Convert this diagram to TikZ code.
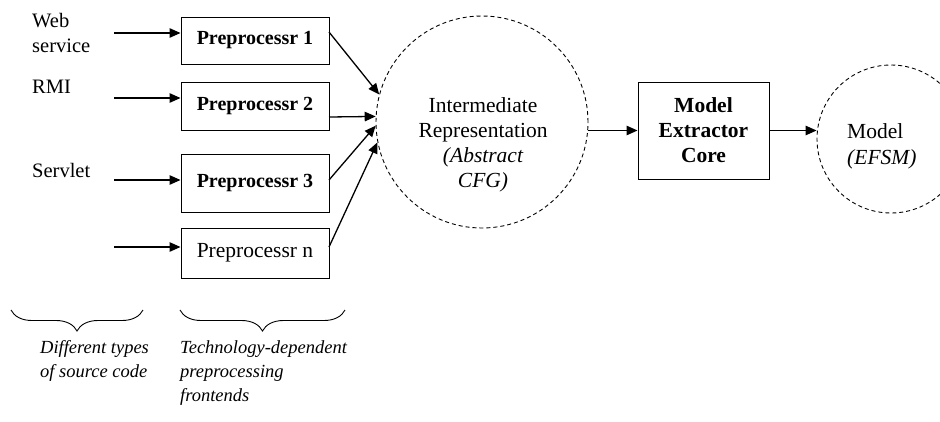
\documentclass[tikz,border=0pt]{standalone}
\usepackage{fontspec}
\setmainfont{Liberation Serif}
\usetikzlibrary{arrows.meta,decorations.pathreplacing,shapes.geometric}
\begin{document}
\begin{tikzpicture}[x=1pt,y=-1pt,
  arr/.style={line width=1.3pt,-{Triangle[length=11pt,width=9.5pt]}},
  ppbox/.style={draw,line width=1pt,minimum width=148pt,inner sep=0pt,font=\fontsize{21.5}{25}\selectfont},
  ppb/.style={ppbox,font=\fontsize{20}{25}\selectfont\bfseries},
  dcirc/.style={circle,draw,dash pattern=on 4pt off 3pt,line width=0.9pt,inner sep=0pt},
  lbl/.style={inner sep=0pt,anchor=west,font=\fontsize{20.5}{25}\selectfont,align=left},
  big/.style={inner sep=0pt,align=center,font=\fontsize{21.5}{25}\selectfont},
  note/.style={inner sep=0pt,anchor=north west,align=left,font=\fontsize{18.5}{24}\selectfont\itshape},
  brc/.style={decorate,decoration={brace,amplitude=21pt},line width=0.9pt}]
\useasboundingbox (0,0) rectangle (940,421);
\clip (0,0) rectangle (940,421);

% preprocessors
\node[ppb,minimum height=47pt] (p1) at (255,40.5) {Preprocessr 1};
\node[ppb,minimum height=48pt] (p2) at (255,106) {Preprocessr 2};
\node[ppb,minimum height=58pt] (p3) at (255,183) {Preprocessr 3};
\node[ppbox,minimum height=50pt] (pn) at (255,253) {Preprocessr n};

% input labels
\node[lbl] (web) at (32,32.5) {Web\\service};
\node[lbl] (rmi) at (32,87) {RMI};
\node[lbl] (srv) at (32,170) {Servlet};

% input arrows
\coordinate (i1) at (114,33);
\coordinate (i2) at (114,98);
\coordinate (i3) at (114,180);
\coordinate (i4) at (114,247);
\draw[arr] (i1) -- (i1 -| p1.west);
\draw[arr] (i2) -- (i2 -| p2.west);
\draw[arr] (i3) -- (i3 -| p3.west);
\draw[arr] (i4) -- (i4 -| pn.west);

% intermediate representation
\node[dcirc,minimum size=212pt] (ir) at (482,122) {};
\node[big] (irt) at (483,144.5) {Intermediate\\Representation\\\itshape(Abstract\\\itshape CFG)};

\coordinate (o1) at (329,32);
\coordinate (o2) at (329,117);
\coordinate (o3) at (329,180);
\coordinate (o4) at (329,247);
\draw[arr] (o1) -- (ir.165);
\draw[arr] (o2) -- (ir.177);
\draw[arr] (o3) -- (ir.182);
\draw[arr] (o4) -- (ir.191);

% model extractor core
\node[draw,line width=1pt,minimum width=131pt,minimum height=97pt,inner sep=0pt,align=center,font=\fontsize{21.5}{25}\selectfont\bfseries] (mec) at (703.5,130.5) {Model\\Extractor\\Core};
\draw[arr] (ir.east |- mec.west) -- (mec.west);

% model
\node[dcirc,minimum size=148pt] (model) at (891,139) {};
\node[inner sep=0pt,anchor=west,align=left,font=\fontsize{21.5}{26}\selectfont] (mt) at (847,146.5) {Model\\\itshape(EFSM)};
\draw[arr] (mec.east) -- (mec.east -| model.west);

% braces
\coordinate (b1r) at (143,310);
\coordinate (b1l) at (11,310);
\coordinate (b2r) at (345,310);
\coordinate (b2l) at (180,310);
\draw[brc] (b1r) -- (b1l);
\draw[brc] (b2r) -- (b2l);

\node[note] (n1) at (40,340) {Different types\\of source code};
\node[note] (n2) at (180,340) {Technology-dependent\\preprocessing\\frontends};
\end{tikzpicture}
\end{document}
